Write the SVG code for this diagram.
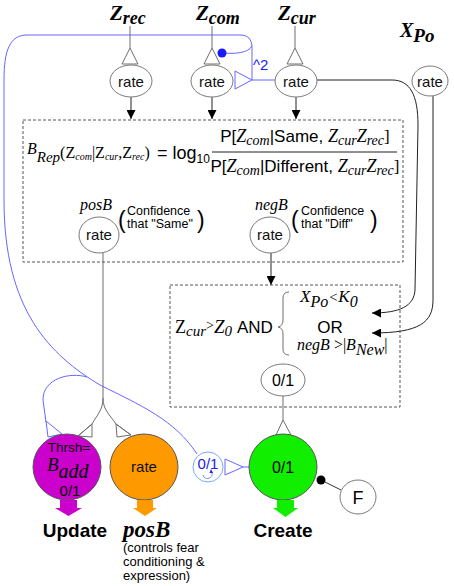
<svg xmlns="http://www.w3.org/2000/svg" width="454" height="586" viewBox="0 0 454 586">
<defs>
<style>
.g{stroke:#6e6e6e;fill:none;stroke-width:1}
.k{stroke:#222;fill:none;stroke-width:1}
.n{fill:#fff;stroke:#7a7a7a;stroke-width:1}
.b{stroke:#6666ff;fill:none;stroke-width:1}
.box{fill:none;stroke:#555;stroke-width:1;stroke-dasharray:3,2}
.sans{font-family:"Liberation Sans",Arial,sans-serif}
.serif{font-family:"Liberation Serif","Times New Roman",serif}
.it{font-style:italic}
.bi{font-weight:bold;font-style:italic}
.rate{font-family:"Liberation Sans",Arial,sans-serif;font-size:15px;text-anchor:middle;fill:#111}
.conf{font-family:"Liberation Sans",Arial,sans-serif;font-size:12.5px}
</style>
<marker id="ah" viewBox="0 0 10 10" refX="10" refY="5" markerWidth="9" markerHeight="9" markerUnits="userSpaceOnUse" orient="auto">
<path d="M0,0 L10,5 L0,10 z" fill="#000"/>
</marker>
</defs>
<rect width="454" height="586" fill="#fff"/>

<g id="connectors">
<path class="b" d="M252 80 L252 48 C252 39 248 35 240 35 L27 35 C10 35 4 50 4 80 L4 200 C4 310 50 355 100 385 C140 405 175 420 197 454"/>
<path class="b" d="M252 46 C248 53 236 54 222 53"/>
<path class="b" d="M275 80 L252 80"/>
<polygon class="b" points="235,71 252,80 235,89"/>
<path class="b" d="M87 377 C70 372 43 378 43 400 L46 422"/>
<polygon class="b" points="46,421 62,434 48,437"/>
<path class="b" d="M243 467 L250 467"/>
<polygon class="b" points="225,459 243,467 225,475"/>
<line class="g" x1="130" y1="26" x2="130" y2="48"/>
<line class="g" x1="212" y1="26" x2="212" y2="48"/>
<line class="g" x1="295" y1="26" x2="295" y2="48"/>
<polygon class="g" points="130,48 122,64 138,64"/>
<polygon class="g" points="212,48 204,64 220,64"/>
<polygon class="g" points="295,48 287,64 303,64"/>
<line class="k" x1="131" y1="97" x2="131" y2="119" marker-end="url(#ah)"/>
<line class="k" x1="212" y1="97" x2="212" y2="119" marker-end="url(#ah)"/>
<line class="k" x1="296" y1="97" x2="296" y2="119" marker-end="url(#ah)"/>
<path class="k" d="M317 80 L392 80 C410 80 418 95 418 125 L415 290 C414 306 400 313 372 313" marker-end="url(#ah)"/>
<path class="k" d="M433 96 L433 300 C433 322 420 333 372 333" marker-end="url(#ah)"/>
<line class="k" x1="271" y1="253" x2="271" y2="285" marker-end="url(#ah)"/>
<line class="g" x1="103" y1="253" x2="103" y2="398"/>
<path class="g" d="M103 398 C103 410 97 415 92 424 L78 436"/>
<path class="g" d="M103 398 C103 410 110 415 116 424 L131 435"/>
<polygon class="g" points="92,424 78,436 92,437"/>
<polygon class="g" points="116,424 131,435 117,437"/>
<line class="g" x1="283" y1="396" x2="283" y2="420"/>
<polygon class="g" points="283,420 276,435 291,435"/>
<line x1="321" y1="480" x2="341" y2="490" stroke="#333" stroke-width="1"/>
<circle cx="321" cy="480" r="4.5" fill="#000"/>
<circle cx="222" cy="53" r="4.5" fill="#1a1aff"/>
</g>

<g id="lbl-zrec"><text class="serif bi" x="110" y="20" font-size="21">Z<tspan font-size="18" dy="4">rec</tspan></text></g>
<g id="lbl-zcom"><text class="serif bi" x="196" y="20" font-size="21">Z<tspan font-size="18" dy="4">com</tspan></text></g>
<g id="lbl-zcur"><text class="serif bi" x="278" y="20" font-size="21">Z<tspan font-size="18" dy="4">cur</tspan></text></g>
<g id="lbl-xpo"><text class="serif bi" x="400" y="37" font-size="20">X<tspan font-size="19" dy="5">Po</tspan></text></g>
<text class="sans" x="253" y="70" font-size="15" fill="#2222ee">^2</text>

<g id="n-rec"><ellipse class="n" cx="131" cy="81" rx="21" ry="16"/><text class="rate" x="131" y="87">rate</text></g>
<g id="n-com"><ellipse class="n" cx="212" cy="81" rx="21" ry="16"/><text class="rate" x="212" y="87">rate</text></g>
<g id="n-cur"><ellipse class="n" cx="296" cy="81" rx="21" ry="16"/><text class="rate" x="296" y="87">rate</text></g>
<g id="n-xpo"><ellipse class="n" cx="430" cy="81" rx="18" ry="15"/><text class="rate" x="430" y="87">rate</text></g>

<g id="box1">
<rect class="box" x="23" y="120" width="380" height="142"/>
<text class="serif" y="154"><tspan x="27" class="it" font-size="16">B</tspan><tspan class="it" font-size="15" dy="8">Rep</tspan><tspan font-size="16" dy="-4">(Z</tspan><tspan class="it" font-size="10" dy="2">com</tspan><tspan font-size="16" dy="-2">|Z</tspan><tspan class="it" font-size="10" dy="2">cur</tspan><tspan font-size="16" dy="-2">,Z</tspan><tspan class="it" font-size="10" dy="2">rec</tspan><tspan font-size="16" dy="-2">)</tspan></text>
<text class="sans" x="157" y="159" font-size="18">= log<tspan font-size="12" dy="4">10</tspan></text>
<line x1="212" y1="152" x2="397" y2="152" stroke="#222" stroke-width="1.2"/>
<text x="305" y="142" text-anchor="middle"><tspan class="sans" font-size="17">P[</tspan><tspan class="serif it" font-size="18">Z</tspan><tspan class="serif it" font-size="14" dy="3">com</tspan><tspan class="sans" font-size="17" dy="-3">|Same, </tspan><tspan class="serif it" font-size="18">Z</tspan><tspan class="serif it" font-size="14" dy="3">cur</tspan><tspan class="serif it" font-size="18" dy="-3">Z</tspan><tspan class="serif it" font-size="14" dy="3">rec</tspan><tspan class="serif" font-size="17" dy="-3">]</tspan></text>
<text x="305" y="172" text-anchor="middle"><tspan class="sans" font-size="17">P[</tspan><tspan class="serif it" font-size="18">Z</tspan><tspan class="serif it" font-size="14" dy="3">com</tspan><tspan class="sans" font-size="17" dy="-3">|Different, </tspan><tspan class="serif it" font-size="18">Z</tspan><tspan class="serif it" font-size="14" dy="3">cur</tspan><tspan class="serif it" font-size="18" dy="-3">Z</tspan><tspan class="serif it" font-size="14" dy="3">rec</tspan><tspan class="serif" font-size="17" dy="-3">]</tspan></text>
</g>

<g id="n-posb">
<text class="serif it" x="80" y="210" font-size="16">posB</text>
<ellipse class="n" cx="99" cy="235" rx="20" ry="18"/><text class="rate" x="99" y="240">rate</text>
<text class="sans" x="118" y="228" font-size="23">(</text>
<text class="conf" x="127" y="215">Confidence</text>
<text class="conf" x="127" y="228">that "Same"</text>
<text class="sans" x="197" y="228" font-size="23">)</text>
</g>
<g id="n-negb">
<text class="serif it" x="255" y="210" font-size="16">negB</text>
<ellipse class="n" cx="270" cy="235" rx="20" ry="18"/><text class="rate" x="270" y="240">rate</text>
<text class="sans" x="291" y="228" font-size="23">(</text>
<text class="conf" x="301" y="215">Confidence</text>
<text class="conf" x="301" y="228">that "Diff"</text>
<text class="sans" x="370" y="228" font-size="23">)</text>
</g>

<g id="box2">
<rect class="box" x="170" y="285" width="230" height="122"/>
<text class="serif" x="175" y="333" font-size="18">Z<tspan class="it" font-size="15" dy="3">cur</tspan><tspan font-size="14" dy="-6">&gt;</tspan><tspan class="it" font-size="19" dy="3">Z</tspan><tspan class="it" font-size="15" dy="3">0</tspan></text>
<text class="sans" x="237" y="333" font-size="17">AND</text>
<path class="g" d="M289 292 Q283 292 283 298 L283 320 Q283 326 278 327 Q283 328 283 334 L283 349 Q283 355 289 355"/>
<text class="serif it" x="300" y="302" font-size="17">X<tspan font-size="16" dy="5">Po</tspan><tspan font-size="15" dy="-5">&lt;</tspan><tspan font-size="17">K</tspan><tspan font-size="16" dy="5">0</tspan></text>
<text class="sans" x="330" y="333" font-size="17" text-anchor="middle">OR</text>
<text class="serif" x="297" y="350" font-size="16"><tspan class="it">negB</tspan> &gt;|<tspan class="it">B</tspan><tspan class="it" font-size="16" dy="5">New</tspan><tspan dy="-5">|</tspan></text>
</g>
<g id="n-01"><ellipse class="n" cx="283" cy="380" rx="22" ry="16"/><text class="sans" x="283" y="386" font-size="16" text-anchor="middle">0/1</text></g>

<g id="n-update">
<ellipse cx="67" cy="467" rx="34" ry="33" fill="#cc00cc" stroke="#555"/>
<text class="sans" x="69" y="452" font-size="13.5" text-anchor="middle">Thrsh=</text>
<text class="serif it" x="47" y="471" font-size="19">B<tspan font-size="20" dy="7">add</tspan></text>
<text class="sans" x="70" y="496" font-size="15" text-anchor="middle">0/1</text>
<polygon points="60,500 77,500 77,508 82,508 68.5,516 55,508 60,508" fill="#cc00cc"/>
<text class="sans" x="75" y="537" font-size="19" font-weight="bold" text-anchor="middle">Update</text>
</g>
<g id="n-posbout">
<ellipse cx="144" cy="467" rx="34" ry="33" fill="#ff9900" stroke="#555"/>
<text class="rate" x="144" y="472">rate</text>
<polygon points="137,500 153,500 153,508 157,508 145,516 133,508 137,508" fill="#ff9900"/>
<text class="serif bi" x="123" y="537" font-size="23">posB</text>
<text class="sans" x="123" y="552" font-size="13">(controls fear</text>
<text class="sans" x="123" y="566" font-size="13">conditioning &amp;</text>
<text class="sans" x="123" y="580" font-size="13">expression)</text>
</g>
<g id="n-blue01">
<circle cx="208" cy="467" r="15" fill="#fff" stroke="#7aa8ff"/>
<text class="sans" x="208" y="469" font-size="15" fill="#2222ee" text-anchor="middle">0/1</text>
<path d="M212 472 C214 479 204 481 203 475" fill="none" stroke="#6666ff" stroke-width="0.8"/>
<polygon points="209.5,473 213,473 211,469" fill="#2222ee"/>
</g>
<g id="n-create">
<ellipse cx="283" cy="467" rx="34" ry="33" fill="#11ee00" stroke="#555"/>
<text class="sans" x="283" y="473" font-size="16" text-anchor="middle">0/1</text>
<polygon points="277,500 294,500 294,508 298,508 285.5,517 273,508 277,508" fill="#11ee00"/>
<text class="sans" x="283" y="537" font-size="19" font-weight="bold" text-anchor="middle">Create</text>
</g>
<g id="n-f">
<ellipse class="n" cx="358" cy="497" rx="18" ry="17"/>
<text class="sans" x="358" y="504" font-size="18" text-anchor="middle">F</text>
</g>
</svg>
